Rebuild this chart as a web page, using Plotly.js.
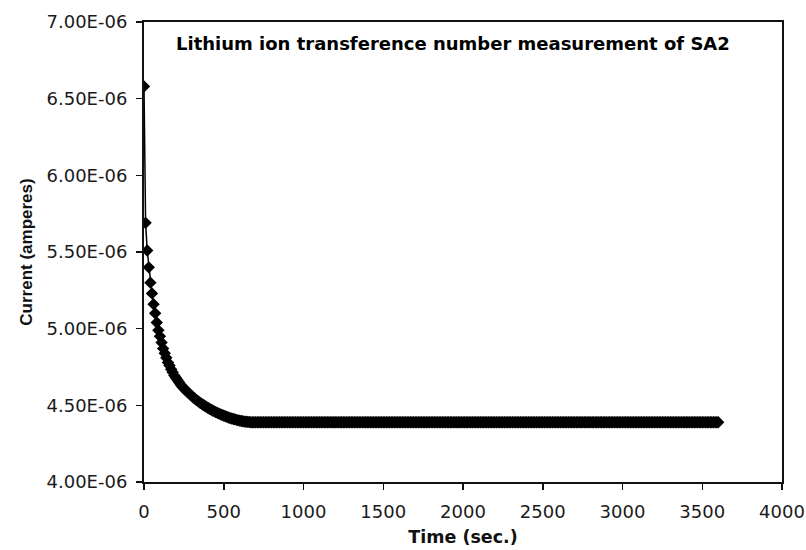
<!DOCTYPE html>
<html>
<head>
<meta charset="utf-8">
<script src="https://cdn.plot.ly/plotly-3.0.1.min.js"></script>
<style>
  html, body { margin: 0; padding: 0; background: #ffffff; }
  #chart { width: 806px; height: 550px; }
</style>
</head>
<body>
<div id="chart"></div>
<script>
// Time (s), sampled every 10 s
const timeSec = [
  0,10,20,30,40,50,60,70,80,90,100,110,120,130,140,150,160,170,180,190,
  200,210,220,230,240,250,260,270,280,290,300,310,320,330,340,350,360,370,380,390,
  400,410,420,430,440,450,460,470,480,490,500,510,520,530,540,550,560,570,580,590,
  600,610,620,630,640,650,660,670,680,690,700,710,720,730,740,750,760,770,780,790,
  800,810,820,830,840,850,860,870,880,890,900,910,920,930,940,950,960,970,980,990,
  1000,1010,1020,1030,1040,1050,1060,1070,1080,1090,1100,1110,1120,1130,1140,1150,1160,1170,1180,1190,
  1200,1210,1220,1230,1240,1250,1260,1270,1280,1290,1300,1310,1320,1330,1340,1350,1360,1370,1380,1390,
  1400,1410,1420,1430,1440,1450,1460,1470,1480,1490,1500,1510,1520,1530,1540,1550,1560,1570,1580,1590,
  1600,1610,1620,1630,1640,1650,1660,1670,1680,1690,1700,1710,1720,1730,1740,1750,1760,1770,1780,1790,
  1800,1810,1820,1830,1840,1850,1860,1870,1880,1890,1900,1910,1920,1930,1940,1950,1960,1970,1980,1990,
  2000,2010,2020,2030,2040,2050,2060,2070,2080,2090,2100,2110,2120,2130,2140,2150,2160,2170,2180,2190,
  2200,2210,2220,2230,2240,2250,2260,2270,2280,2290,2300,2310,2320,2330,2340,2350,2360,2370,2380,2390,
  2400,2410,2420,2430,2440,2450,2460,2470,2480,2490,2500,2510,2520,2530,2540,2550,2560,2570,2580,2590,
  2600,2610,2620,2630,2640,2650,2660,2670,2680,2690,2700,2710,2720,2730,2740,2750,2760,2770,2780,2790,
  2800,2810,2820,2830,2840,2850,2860,2870,2880,2890,2900,2910,2920,2930,2940,2950,2960,2970,2980,2990,
  3000,3010,3020,3030,3040,3050,3060,3070,3080,3090,3100,3110,3120,3130,3140,3150,3160,3170,3180,3190,
  3200,3210,3220,3230,3240,3250,3260,3270,3280,3290,3300,3310,3320,3330,3340,3350,3360,3370,3380,3390,
  3400,3410,3420,3430,3440,3450,3460,3470,3480,3490,3500,3510,3520,3530,3540,3550,3560,3570,3580,3590,
  3600
];

// Current in micro-amperes, converted to amperes below
const currentMicroA = [
  6.58,5.69,5.51,5.40,5.30,5.23,5.16,5.10,5.04,4.99,
  4.95,4.91,4.87,4.84,4.81,4.78,4.76,4.735,4.715,4.695,
  4.68,4.665,4.65,4.635,4.622,4.61,4.60,4.59,4.58,4.57,
  4.56,4.551,4.542,4.534,4.526,4.518,4.511,4.504,4.497,4.490,
  4.484,4.478,4.472,4.466,4.461,4.456,4.451,4.446,4.441,4.437,
  4.433,4.429,4.425,4.421,4.417,4.414,4.411,4.408,4.405,4.402,
  4.400,4.398,4.396,4.394,4.393,4.392,4.391,4.39,4.39,4.39,
  4.39,4.39,4.39,4.39,4.39,4.39,4.39,4.39,4.39,4.39,4.39,4.39,4.39,4.39,4.39,4.39,4.39,4.39,4.39,4.39,
  4.39,4.39,4.39,4.39,4.39,4.39,4.39,4.39,4.39,4.39,4.39,4.39,4.39,4.39,4.39,4.39,4.39,4.39,4.39,4.39,
  4.39,4.39,4.39,4.39,4.39,4.39,4.39,4.39,4.39,4.39,4.39,4.39,4.39,4.39,4.39,4.39,4.39,4.39,4.39,4.39,
  4.39,4.39,4.39,4.39,4.39,4.39,4.39,4.39,4.39,4.39,4.39,4.39,4.39,4.39,4.39,4.39,4.39,4.39,4.39,4.39,
  4.39,4.39,4.39,4.39,4.39,4.39,4.39,4.39,4.39,4.39,4.39,4.39,4.39,4.39,4.39,4.39,4.39,4.39,4.39,4.39,
  4.39,4.39,4.39,4.39,4.39,4.39,4.39,4.39,4.39,4.39,4.39,4.39,4.39,4.39,4.39,4.39,4.39,4.39,4.39,4.39,
  4.39,4.39,4.39,4.39,4.39,4.39,4.39,4.39,4.39,4.39,4.39,4.39,4.39,4.39,4.39,4.39,4.39,4.39,4.39,4.39,
  4.39,4.39,4.39,4.39,4.39,4.39,4.39,4.39,4.39,4.39,4.39,4.39,4.39,4.39,4.39,4.39,4.39,4.39,4.39,4.39,
  4.39,4.39,4.39,4.39,4.39,4.39,4.39,4.39,4.39,4.39,4.39,4.39,4.39,4.39,4.39,4.39,4.39,4.39,4.39,4.39,
  4.39,4.39,4.39,4.39,4.39,4.39,4.39,4.39,4.39,4.39,4.39,4.39,4.39,4.39,4.39,4.39,4.39,4.39,4.39,4.39,
  4.39,4.39,4.39,4.39,4.39,4.39,4.39,4.39,4.39,4.39,4.39,4.39,4.39,4.39,4.39,4.39,4.39,4.39,4.39,4.39,
  4.39,4.39,4.39,4.39,4.39,4.39,4.39,4.39,4.39,4.39,4.39,4.39,4.39,4.39,4.39,4.39,4.39,4.39,4.39,4.39,
  4.39,4.39,4.39,4.39,4.39,4.39,4.39,4.39,4.39,4.39,4.39,4.39,4.39,4.39,4.39,4.39,4.39,4.39,4.39,4.39,
  4.39,4.39,4.39,4.39,4.39,4.39,4.39,4.39,4.39,4.39,4.39,4.39,4.39,4.39,4.39,4.39,4.39,4.39,4.39,4.39,
  4.39,4.39,4.39,4.39,4.39,4.39,4.39,4.39,4.39,4.39,4.39
];

const yTickVals = [4.0e-6, 4.5e-6, 5.0e-6, 5.5e-6, 6.0e-6, 6.5e-6, 7.0e-6];
const yTickText = ["4.00E-06", "4.50E-06", "5.00E-06", "5.50E-06", "6.00E-06", "6.50E-06", "7.00E-06"];
const xTickVals = [0, 500, 1000, 1500, 2000, 2500, 3000, 3500, 4000];

const chartTitle = "Lithium ion transference number measurement of SA2";
const xTitle = "Time (sec.)";
const yTitle = "Current (amperes)";

const currentA = currentMicroA.map(v => v * 1e-6);

const trace = {
  x: timeSec,
  y: currentA,
  type: "scatter",
  mode: "lines+markers",
  line: { color: "#000000", width: 1.5 },
  marker: { symbol: "diamond", size: 9.5, color: "#000000" },
  hoverinfo: "x+y",
  showlegend: false
};

const tickFont = { family: "DejaVu Sans, Liberation Sans, Arial, sans-serif", size: 18, color: "#1a1a1a" };

const layout = {
  width: 806,
  height: 550,
  paper_bgcolor: "#ffffff",
  plot_bgcolor: "#ffffff",
  margin: { l: 144, r: 24, t: 22, b: 68 },
  showlegend: false,
  xaxis: {
    range: [0, 4000],
    tickvals: xTickVals,
    ticktext: xTickVals.map(String),
    ticks: "outside",
    ticklen: 6,
    tickwidth: 1.5,
    tickcolor: "#111111",
    ticklabelstandoff: 6,
    showline: true,
    linecolor: "#111111",
    linewidth: 2,
    mirror: true,
    showgrid: false,
    zeroline: false,
    tickfont: tickFont,
    title: {
      text: xTitle,
      font: { family: "DejaVu Sans, Liberation Sans, Arial, sans-serif", size: 17.5, color: "#111111", weight: "bold" },
      standoff: 10
    }
  },
  yaxis: {
    range: [4.0e-6, 7.0e-6],
    tickvals: yTickVals,
    ticktext: yTickText,
    ticks: "outside",
    ticklen: 6,
    tickwidth: 1.5,
    tickcolor: "#111111",
    ticklabelstandoff: 5,
    showline: true,
    linecolor: "#111111",
    linewidth: 2,
    mirror: true,
    showgrid: false,
    zeroline: false,
    tickfont: tickFont,
    title: {
      text: yTitle,
      font: { family: "Liberation Sans, Arial, sans-serif", size: 17, color: "#111111", weight: "bold" },
      standoff: 10
    }
  },
  annotations: [{
    text: chartTitle,
    xref: "paper", yref: "paper",
    x: 0.484, y: 0.954,
    xanchor: "center", yanchor: "middle",
    showarrow: false,
    font: { family: "DejaVu Sans, Liberation Sans, Arial, sans-serif", size: 18, color: "#000000", weight: "bold" }
  }]
};

Plotly.newPlot("chart", [trace], layout, { displayModeBar: false, staticPlot: true });
</script>
</body>
</html>
